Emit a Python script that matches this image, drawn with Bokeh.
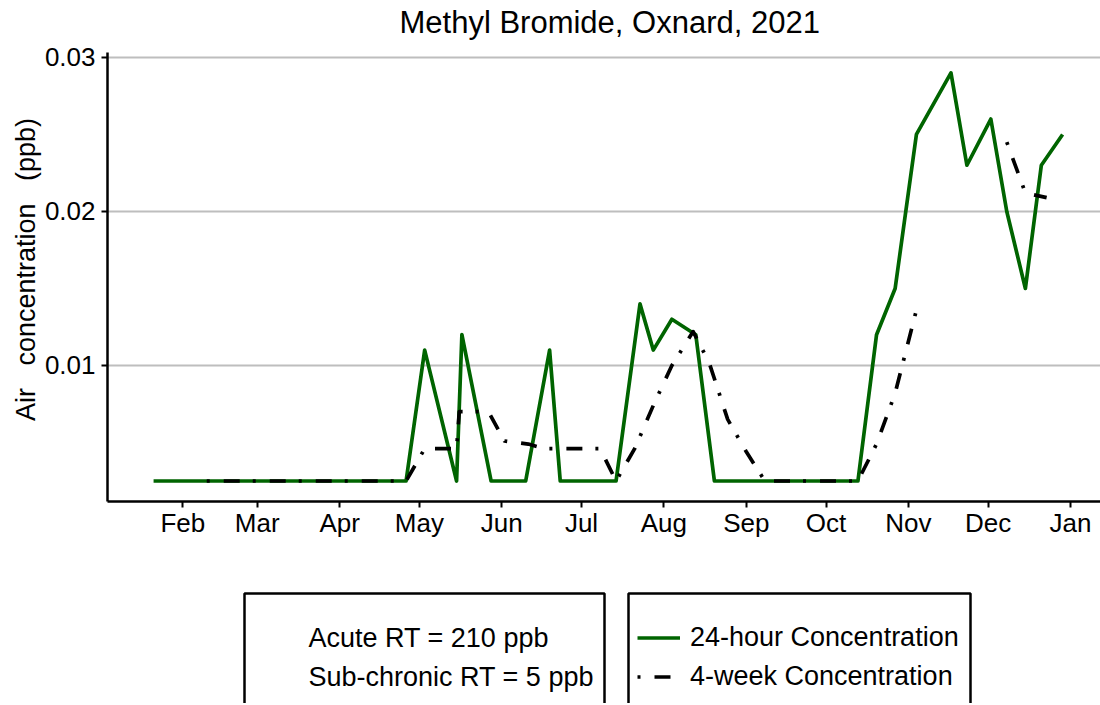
import numpy as np
import pandas as pd
from bokeh.plotting import figure
from bokeh.models import (Range1d, FixedTicker, DatetimeTickFormatter, Legend,
                          LegendItem, BoxAnnotation, Label, ColumnDataSource)
from bokeh.layouts import column
from bokeh.embed import file_html
from bokeh.resources import INLINE

# ---------------- data ----------------
title_text = "Methyl Bromide, Oxnard, 2021"
y_label = "\u00a0\u00a0Air\u00a0\u00a0 concentration\u00a0\u00a0 (ppb)"

dates_24h = ["2021-01-21", "2021-04-26", "2021-05-03", "2021-05-15", "2021-05-17",
             "2021-05-28", "2021-06-10", "2021-06-19", "2021-06-23", "2021-07-14",
             "2021-07-23", "2021-07-28", "2021-08-04", "2021-08-13", "2021-08-20",
             "2021-10-13", "2021-10-20", "2021-10-27", "2021-11-04", "2021-11-17",
             "2021-11-23", "2021-12-02", "2021-12-08", "2021-12-15", "2021-12-21",
             "2021-12-29"]
conc_24h = [0.0025, 0.0025, 0.011, 0.0025, 0.012,
            0.0025, 0.0025, 0.011, 0.0025, 0.0025,
            0.014, 0.011, 0.013, 0.012, 0.0025,
            0.0025, 0.012, 0.015, 0.025, 0.029,
            0.023, 0.026, 0.020, 0.015, 0.023,
            0.025]

dates_4wk = ["2021-02-10", "2021-04-26", "2021-05-03", "2021-05-15", "2021-05-16",
             "2021-05-27", "2021-06-02", "2021-06-11", "2021-06-17", "2021-07-08",
             "2021-07-14", "2021-07-21", "2021-07-28", "2021-08-04", "2021-08-12",
             "2021-08-18", "2021-08-25", "2021-09-01", "2021-09-08", "2021-10-13",
             "2021-10-20", "2021-10-27", "2021-11-04", "2021-11-20", "2021-12-08",
             "2021-12-15", "2021-12-23"]
conc_4wk = [0.0025, 0.0025, 0.0046, 0.0046, 0.0070,
            0.0070, 0.0051, 0.0049, 0.0046, 0.0046,
            0.0025, 0.0046, 0.0074, 0.0100, 0.0122,
            0.0102, 0.0065, 0.0044, 0.0025, 0.0025,
            0.0049, 0.0082, 0.0136, np.nan, 0.0245,
            0.0212, 0.0209]

month_ticks = ["2021-02-01", "2021-03-01", "2021-04-01", "2021-05-01", "2021-06-01",
               "2021-07-01", "2021-08-01", "2021-09-01", "2021-10-01", "2021-11-01",
               "2021-12-01", "2022-01-01"]
month_labels = ["Feb", "Mar", "Apr", "May", "Jun", "Jul", "Aug", "Sep", "Oct", "Nov",
                "Dec", "Jan"]
y_ticks = [0.01, 0.02, 0.03]
y_tick_labels = ["0.01", "0.02", "0.03"]
x_limits = ["2021-01-03 16:00", "2022-01-12 06:15"]
y_limits = [0.00117, 0.03032]

series_names = ["24-hour Concentration", "4-week Concentration"]
ref_lines = ["Acute RT = 210 ppb", "Sub-chronic RT = 5 ppb"]

# ---------------- helpers ----------------
EPOCH = pd.Timestamp("1970-01-01")


def to_ms(vals):
    return [float((pd.Timestamp(v) - EPOCH) / pd.Timedelta(milliseconds=1)) for v in vals]


FONT = "Liberation Sans"
GREEN = "#006400"
DASH = "3 14 16 13"
LW = 3.7
W = 1100
LEFT = 107


def blank_panel(height):
    f = figure(width=W, height=height, x_range=Range1d(LEFT, W), y_range=Range1d(0, height),
               output_backend="svg", toolbar_location=None,
               min_border_left=LEFT, min_border_right=0, min_border_top=0,
               min_border_bottom=0, x_axis_location=None, y_axis_location=None)
    f.outline_line_color = None
    f.xgrid.visible = False
    f.ygrid.visible = False
    f.background_fill_color = "white"
    f.border_fill_color = "white"
    return f


# ---------------- title panel (data units == page pixels) ----------------
H0 = 41
pt = blank_panel(H0)
pt.add_layout(Label(x=399, y=H0 - 22, text=title_text, text_font=FONT,
                    text_font_size="31px", text_baseline="middle",
                    text_align="left", text_color="black"))

# ---------------- main chart ----------------
src24 = ColumnDataSource(dict(x=pd.to_datetime(dates_24h), y=conc_24h))
src4 = ColumnDataSource(dict(x=pd.to_datetime(dates_4wk), y=conc_4wk))

xl = to_ms(x_limits)
H1 = 560 - H0
p = figure(width=W, height=H1, x_axis_type="datetime",
           x_range=Range1d(xl[0], xl[1]), y_range=Range1d(y_limits[0], y_limits[1]),
           output_backend="svg", toolbar_location=None,
           min_border_left=LEFT, min_border_right=0, min_border_top=52 - H0,
           min_border_bottom=59)
p.outline_line_color = None
p.background_fill_color = "white"
p.border_fill_color = "white"

p.line("x", "y", source=src24, line_color=GREEN, line_width=LW, line_join="round")
p.line("x", "y", source=src4, line_color="black", line_width=LW, line_join="round",
       line_cap="butt", line_dash=DASH)

tick_ms = to_ms(month_ticks)
p.xaxis.ticker = FixedTicker(ticks=tick_ms)
p.xaxis.formatter = DatetimeTickFormatter(months="%b", days="%b", years="%b")
p.xaxis.major_label_overrides = dict(zip(tick_ms, month_labels))
p.yaxis.ticker = FixedTicker(ticks=y_ticks)
p.yaxis.major_label_overrides = dict(zip(y_ticks, y_tick_labels))
p.yaxis.axis_label = y_label

for ax in (p.xaxis[0], p.yaxis[0]):
    ax.axis_line_color = "black"
    ax.axis_line_width = 2.5
    ax.major_tick_line_color = "black"
    ax.major_tick_line_width = 2
    ax.major_tick_in = 0
    ax.major_tick_out = 6
    ax.minor_tick_line_color = None
    ax.major_label_text_font = FONT
    ax.major_label_text_font_size = "26px"
    ax.major_label_text_color = "black"
    ax.major_label_standoff = 6
    ax.axis_label_text_font = FONT
    ax.axis_label_text_font_size = "27px"
    ax.axis_label_text_font_style = "normal"
    ax.axis_label_text_color = "black"
p.yaxis.axis_label_standoff = 1
p.xaxis.major_label_standoff = 0

p.xgrid.visible = False
p.ygrid.grid_line_color = "#bebebe"
p.ygrid.grid_line_width = 2

# ---------------- legend area (data units == page pixels) ----------------
H2 = 143
p2 = blank_panel(H2)
BOT = 560 + H2  # page y of the bottom of the legend panel
for lft, rgt in ((244, 604), (628, 970)):
    p2.add_layout(BoxAnnotation(left=lft, right=rgt, top=BOT - 593, bottom=-20,
                                fill_alpha=0, line_alpha=1, line_color="black",
                                line_width=2.5))

for txt, yy in zip(ref_lines, (637, 676)):
    p2.add_layout(Label(x=308, y=BOT - yy, text=txt, text_font=FONT, text_font_size="27px",
                        text_baseline="middle", text_align="left", text_color="black"))

d1 = p2.line(x=[0, 1], y=[-500, -500], line_color=GREEN, line_width=LW)
d2 = p2.line(x=[0, 1], y=[-500, -500], line_color="black", line_width=LW,
             line_cap="butt", line_dash=DASH)
leg = Legend(items=[LegendItem(label=series_names[0], renderers=[d1]),
                    LegendItem(label=series_names[1], renderers=[d2])],
             location=(637 - LEFT, BOT - 695.5), padding=0, margin=0, spacing=0,
             glyph_width=43, glyph_height=39, label_height=39, label_standoff=10,
             border_line_alpha=0, background_fill_alpha=0,
             label_text_font=FONT, label_text_font_size="27px",
             label_text_color="black")
p2.add_layout(leg, "center")

layout = column(pt, p, p2, spacing=0)
open("out.html", "w").write(file_html(layout, INLINE))
